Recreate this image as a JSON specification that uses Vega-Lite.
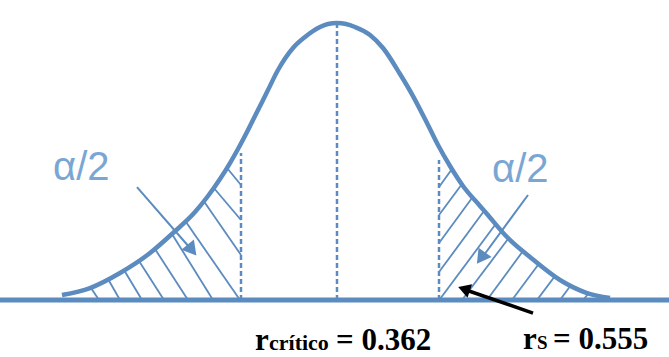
{
  "$schema": "https://vega.github.io/schema/vega-lite/v6.json",
  "width": 669,
  "height": 357,
  "padding": 0,
  "autosize": {"type": "none"},
  "background": "white",
  "config": {"view": {"stroke": null}},
  "datasets": {
    "curve": [
      {"x": -2.755, "y": 0.0071}, {"x": -2.475, "y": 0.0171}, {"x": -2.175, "y": 0.0386},
      {"x": -1.875, "y": 0.0671}, {"x": -1.645, "y": 0.0957}, {"x": -1.425, "y": 0.1257},
      {"x": -1.295, "y": 0.1486}, {"x": -1.175, "y": 0.1729}, {"x": -1.075, "y": 0.1957},
      {"x": -0.995, "y": 0.2157}, {"x": -0.905, "y": 0.24}, {"x": -0.805, "y": 0.2686},
      {"x": -0.705, "y": 0.2971}, {"x": -0.595, "y": 0.3286}, {"x": -0.445, "y": 0.36},
      {"x": -0.325, "y": 0.3757}, {"x": -0.175, "y": 0.39}, {"x": -0.095, "y": 0.3943},
      {"x": -0.005, "y": 0.3957}, {"x": 0.085, "y": 0.3943}, {"x": 0.175, "y": 0.39},
      {"x": 0.325, "y": 0.3786}, {"x": 0.455, "y": 0.36}, {"x": 0.625, "y": 0.3229},
      {"x": 0.755, "y": 0.2914}, {"x": 0.895, "y": 0.2529}, {"x": 1.005, "y": 0.2214},
      {"x": 1.125, "y": 0.1914}, {"x": 1.255, "y": 0.1629}, {"x": 1.425, "y": 0.1343},
      {"x": 1.495, "y": 0.1229}, {"x": 1.695, "y": 0.09}, {"x": 1.925, "y": 0.0614},
      {"x": 2.225, "y": 0.0286}, {"x": 2.495, "y": 0.01}, {"x": 2.725, "y": 0.0029}
    ],
    "baseline": [{"x": -3.375, "x2": 3.315, "y": 0}],
    "dashed": [
      {"x": -0.005, "y": 0, "y2": 0.3943},
      {"x": -0.965, "y": 0, "y2": 0.21},
      {"x": 1.015, "y": 0, "y2": 0.2}
    ],
    "hatch": [
      {"x": -2.465, "y": 0.0171, "x2": -2.385, "y2": 0},
      {"x": -2.295, "y": 0.03, "x2": -2.175, "y2": 0},
      {"x": -2.135, "y": 0.0429, "x2": -1.955, "y2": 0},
      {"x": -1.985, "y": 0.0557, "x2": -1.735, "y2": 0},
      {"x": -1.825, "y": 0.0729, "x2": -1.495, "y2": 0},
      {"x": -1.655, "y": 0.0943, "x2": -1.245, "y2": 0},
      {"x": -1.515, "y": 0.1114, "x2": -0.975, "y2": 0},
      {"x": -1.345, "y": 0.1429, "x2": -0.965, "y2": 0.0643},
      {"x": -1.245, "y": 0.1614, "x2": -0.965, "y2": 0.1143},
      {"x": -1.105, "y": 0.1886, "x2": -0.965, "y2": 0.1643},
      {"x": 1.015, "y": 0.1614, "x2": 1.145, "y2": 0.1871},
      {"x": 1.015, "y": 0.1214, "x2": 1.245, "y2": 0.1657},
      {"x": 1.015, "y": 0.0814, "x2": 1.345, "y2": 0.1457},
      {"x": 1.015, "y": 0.04, "x2": 1.465, "y2": 0.1271},
      {"x": 1.025, "y": 0.0014, "x2": 1.575, "y2": 0.1071},
      {"x": 1.245, "y": 0, "x2": 1.705, "y2": 0.0871},
      {"x": 1.495, "y": 0, "x2": 1.855, "y2": 0.07},
      {"x": 1.745, "y": 0, "x2": 2.005, "y2": 0.05},
      {"x": 1.995, "y": 0, "x2": 2.175, "y2": 0.0343},
      {"x": 2.225, "y": 0, "x2": 2.335, "y2": 0.0214},
      {"x": 2.455, "y": 0, "x2": 2.515, "y2": 0.01}
    ],
    "pointers": [
      {"x": -2.005, "y": 0.1614, "x2": -1.475, "y2": 0.0743},
      {"x": 1.905, "y": 0.15, "x2": 1.465, "y2": 0.0643}
    ],
    "headLeft": [{"x": -1.455, "y": 0.0714}],
    "headRight": [{"x": 1.435, "y": 0.06}],
    "arrow": [{"x": 1.955, "y": -0.0186, "x2": 1.285, "y2": 0.0143}],
    "arrowHead": [{"x": 1.265, "y": 0.0157}],
    "alpha": [
      {"x": -2.845, "y": 0.1714, "text": "α/2"},
      {"x": 1.545, "y": 0.1686, "text": "α/2"}
    ],
    "labelMain": [
      {"x": -0.825, "y": -0.0714, "text": "r"},
      {"x": -0.015, "y": -0.0714, "text": "= 0.362"},
      {"x": 1.855, "y": -0.07, "text": "r"},
      {"x": 2.155, "y": -0.07, "text": "= 0.555"}
    ],
    "subCrit": [{"x": -0.685, "y": -0.0714, "text": "crítico"}],
    "subS": [{"x": 1.995, "y": -0.07, "text": "S"}]
  },
  "encoding": {
    "x": {"field": "x", "type": "quantitative", "scale": {"domain": [-3.375, 3.315], "nice": false, "zero": false}, "axis": null},
    "y": {"field": "y", "type": "quantitative", "scale": {"domain": [-0.0814, 0.4286], "nice": false, "zero": false}, "axis": null}
  },
  "layer": [
    {
      "data": {"name": "baseline"},
      "mark": {"type": "rule", "color": "#5b8bbf", "strokeWidth": 5},
      "encoding": {"x2": {"field": "x2"}}
    },
    {
      "data": {"name": "hatch"},
      "mark": {"type": "rule", "color": "#5b8bbf", "strokeWidth": 1.8},
      "encoding": {"x2": {"field": "x2"}, "y2": {"field": "y2"}}
    },
    {
      "data": {"name": "dashed"},
      "mark": {"type": "rule", "color": "#5b8bbf", "strokeWidth": 2.5, "strokeDash": [5, 3]},
      "encoding": {"y2": {"field": "y2"}}
    },
    {
      "data": {"name": "pointers"},
      "mark": {"type": "rule", "color": "#5b8bbf", "strokeWidth": 2},
      "encoding": {"x2": {"field": "x2"}, "y2": {"field": "y2"}}
    },
    {
      "data": {"name": "headLeft"},
      "mark": {"type": "point", "shape": "triangle-up", "filled": true, "opacity": 1, "color": "#5b8bbf", "size": 260, "angle": 141}
    },
    {
      "data": {"name": "headRight"},
      "mark": {"type": "point", "shape": "triangle-up", "filled": true, "opacity": 1, "color": "#5b8bbf", "size": 260, "angle": 216}
    },
    {
      "data": {"name": "curve"},
      "mark": {"type": "line", "color": "#5b8bbf", "strokeWidth": 4.5, "interpolate": "monotone"}
    },
    {
      "data": {"name": "arrow"},
      "mark": {"type": "rule", "color": "black", "strokeWidth": 3.5},
      "encoding": {"x2": {"field": "x2"}, "y2": {"field": "y2"}}
    },
    {
      "data": {"name": "arrowHead"},
      "mark": {"type": "point", "shape": "triangle-up", "filled": true, "opacity": 1, "color": "black", "size": 200, "angle": 289}
    },
    {
      "data": {"name": "alpha"},
      "mark": {"type": "text", "align": "left", "baseline": "alphabetic", "font": "Liberation Sans", "fontSize": 40, "color": "#7aa6d3"},
      "encoding": {"text": {"field": "text"}}
    },
    {
      "data": {"name": "labelMain"},
      "mark": {"type": "text", "align": "left", "baseline": "alphabetic", "font": "Liberation Serif", "fontWeight": "bold", "fontSize": 31, "color": "black"},
      "encoding": {"text": {"field": "text"}}
    },
    {
      "data": {"name": "subCrit"},
      "mark": {"type": "text", "align": "left", "baseline": "alphabetic", "font": "Liberation Serif", "fontWeight": "bold", "fontSize": 22, "color": "black"},
      "encoding": {"text": {"field": "text"}}
    },
    {
      "data": {"name": "subS"},
      "mark": {"type": "text", "align": "left", "baseline": "alphabetic", "font": "Liberation Serif", "fontWeight": "bold", "fontSize": 19, "color": "black"},
      "encoding": {"text": {"field": "text"}}
    }
  ]
}
